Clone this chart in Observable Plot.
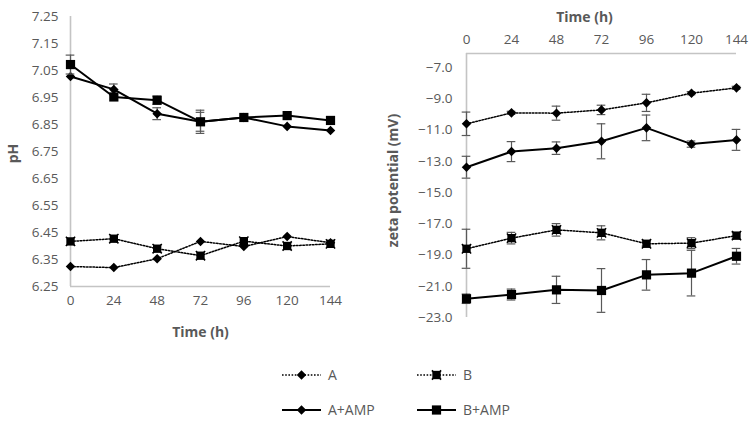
<!DOCTYPE html>
<html>
<head>
<meta charset="utf-8">
<script src="https://cdn.jsdelivr.net/npm/d3@7"></script>
<script src="https://cdn.jsdelivr.net/npm/@observablehq/plot@0.6"></script>
<style>
  html, body { margin: 0; padding: 0; background: #fff; }
  #wrap { position: relative; width: 753px; height: 422px; overflow: hidden; background: #fff; font-family: "Open Sans", sans-serif; }
  #wrap svg { position: absolute; overflow: visible; }
</style>
</head>
<body>
<div id="wrap"></div>
<script>
// ---- data ----
const times = [0, 24, 48, 72, 96, 120, 144];
const seriesNames = ["A", "B", "A+AMP", "B+AMP"];

// pH (left panel)
const phA      = [6.324, 6.320, 6.353, 6.417, 6.398, 6.435, 6.412];
const phB      = [6.417, 6.427, 6.390, 6.364, 6.418, 6.400, 6.408];
const phAAMP   = [7.028, 6.980, 6.890, 6.860, 6.876, 6.843, 6.828];
const phBAMP   = [7.072, 6.952, 6.940, 6.860, 6.876, 6.883, 6.865];
const phAErr    = [0, 0, 0, 0, 0, 0, 0];
const phBErr    = [0, 0, 0, 0, 0, 0, 0];
const phAAMPErr = [0, 0.020, 0.022, 0.035, 0, 0, 0];
const phBAMPErr = [0.035, 0, 0.015, 0.043, 0, 0, 0];

// zeta potential (right panel)
const zA      = [-10.60, -9.90, -9.92, -9.71, -9.26, -8.64, -8.30];
const zB      = [-18.60, -17.92, -17.39, -17.58, -18.28, -18.24, -17.76];
const zAAMP   = [-13.38, -12.38, -12.16, -11.72, -10.86, -11.90, -11.63];
const zBAMP   = [-21.80, -21.53, -21.23, -21.27, -20.27, -20.16, -19.08];
const zAErr    = [0.75, 0.10, 0.45, 0.30, 0.55, 0.10, 0.10];
const zBErr    = [1.25, 0.37, 0.40, 0.45, 0.15, 0.35, 0.20];
const zAAMPErr = [0.70, 0.64, 0.40, 1.12, 0.82, 0.20, 0.67];
const zBAMPErr = [0.30, 0.35, 0.87, 1.40, 0.98, 1.46, 0.50];

const phTicks = [6.25, 6.35, 6.45, 6.55, 6.65, 6.75, 6.85, 6.95, 7.05, 7.15, 7.25];
const zTicks = [-23, -21, -19, -17, -15, -13, -11, -9, -7];
const zTop = -6.1;

// ---- styles ----
const GREY = "#595959";
const AXIS = "#c4c4c4";
const TICK_FS = 13.5;
const TITLE_FS = 14;
const styles = {
  "A":     {dashed: true,  shape: "diamond"},
  "B":     {dashed: true,  shape: "xsquare"},
  "A+AMP": {dashed: false, shape: "diamond"},
  "B+AMP": {dashed: false, shape: "square"}
};

function rows(name, vals, errs) {
  return times.map((t, i) => ({t, v: vals[i], e: errs[i], s: name}));
}

function seriesMarks(data, cap) {
  const st = styles[data[0].s];
  const eb = data.filter(d => d.e > 0);
  const marks = [
    Plot.line(data, {x: "t", y: "v", stroke: "black",
      strokeWidth: st.dashed ? 1.5 : 2,
      strokeDasharray: st.dashed ? "1.6,1.6" : null}),
    Plot.ruleX(eb, {x: "t", y1: d => d.v - d.e, y2: d => d.v + d.e, stroke: GREY, strokeWidth: 1.2}),
    Plot.ruleY(eb, {y: d => d.v + d.e, x1: d => d.t - cap, x2: d => d.t + cap, stroke: GREY, strokeWidth: 1.2}),
    Plot.ruleY(eb, {y: d => d.v - d.e, x1: d => d.t - cap, x2: d => d.t + cap, stroke: GREY, strokeWidth: 1.2})
  ];
  if (st.shape === "diamond") {
    marks.push(Plot.dot(data, {x: "t", y: "v", symbol: "diamond2", r: 4.3, fill: "black", stroke: "none"}));
  } else if (st.shape === "square") {
    marks.push(Plot.dot(data, {x: "t", y: "v", symbol: "square", r: 5.2, fill: "black", stroke: "none"}));
  } else {
    marks.push(Plot.dot(data, {x: "t", y: "v", symbol: "square", r: 4.7, fill: "black", stroke: "none"}));
    marks.push(Plot.dot(data, {x: "t", y: "v", symbol: "times", r: 4.3, stroke: "black", strokeWidth: 1.5, fill: "none"}));
  }
  return marks;
}

const wrap = document.getElementById("wrap");

// ---- left panel: pH ----
const phSeries = [
  rows("A", phA, phAErr), rows("B", phB, phBErr),
  rows("A+AMP", phAAMP, phAAMPErr), rows("B+AMP", phBAMP, phBAMPErr)
];
const left = Plot.plot({
  width: 350, height: 346,
  marginLeft: 70, marginRight: 20, marginTop: 16, marginBottom: 60,
  style: {fontFamily: "Open Sans, sans-serif", fontSize: TICK_FS + "px", color: GREY, background: "transparent", overflow: "visible"},
  x: {domain: [0, 144]},
  y: {domain: [6.25, 7.25]},
  marks: [
    Plot.axisX({ticks: times, tickSize: 0, tickPadding: 9, label: null, fill: GREY}),
    Plot.axisY({ticks: phTicks, tickSize: 0, tickPadding: 12, tickFormat: d3.format(".2f"), label: null, fill: GREY}),
    Plot.ruleX([0], {stroke: AXIS, strokeWidth: 1.6}),
    Plot.ruleY([6.25], {stroke: AXIS, strokeWidth: 1.6}),
    ...phSeries.flatMap(s => seriesMarks(s, 2.4)),
    Plot.text(["Time (h)"], {frameAnchor: "bottom", dy: 50, textAnchor: "middle", fontWeight: "bold", fill: GREY, fontSize: TITLE_FS}),
    Plot.text(["pH"], {frameAnchor: "left", dx: -57, dy: 2, rotate: -90, textAnchor: "middle", fontWeight: "bold", fill: GREY, fontSize: TITLE_FS})
  ]
});
left.style.left = "0px"; left.style.top = "0px";
wrap.appendChild(left);

// ---- right panel: zeta potential ----
const zSeries = [
  rows("A", zA, zAErr), rows("B", zB, zBErr),
  rows("A+AMP", zAAMP, zAAMPErr), rows("B+AMP", zBAMP, zBAMPErr)
];
const right = Plot.plot({
  width: 383, height: 327,
  marginLeft: 96, marginRight: 17, marginTop: 53, marginBottom: 10,
  style: {fontFamily: "Open Sans, sans-serif", fontSize: TICK_FS + "px", color: GREY, background: "transparent", overflow: "visible"},
  x: {domain: [0, 144]},
  y: {domain: [-23, zTop]},
  marks: [
    Plot.axisX({anchor: "top", ticks: times, tickSize: 0, tickPadding: 10, label: null, fill: GREY}),
    Plot.axisY({ticks: zTicks, tickSize: 0, tickPadding: 14, tickFormat: d3.format(".1f"), label: null, fill: GREY}),
    Plot.ruleX([0], {stroke: AXIS, strokeWidth: 1.6}),
    Plot.ruleY([zTop], {stroke: AXIS, strokeWidth: 1.6}),
    ...zSeries.flatMap(s => seriesMarks(s, 2.3)),
    Plot.text(["Time (h)"], {frameAnchor: "top", dy: -41, dx: -17, textAnchor: "middle", fontWeight: "bold", fill: GREY, fontSize: TITLE_FS}),
    Plot.text(["zeta potential (mV)"], {frameAnchor: "left", dx: -73, dy: -5, rotate: -90, textAnchor: "middle", fontWeight: "bold", fill: GREY, fontSize: TITLE_FS})
  ]
});
right.style.left = "370px"; right.style.top = "0px";
wrap.appendChild(right);

// ---- legend ----
const legendPos = [
  {s: "A", x: 282, y: 20}, {s: "B", x: 417, y: 20},
  {s: "A+AMP", x: 282, y: 55}, {s: "B+AMP", x: 417, y: 55}
];
const lg = d3.select(wrap).append("svg")
  .attr("width", 753).attr("height", 67)
  .style("left", "0px").style("top", "355px");
legendPos.forEach(p => {
  const st = styles[p.s];
  const g = lg.append("g").attr("transform", `translate(${p.x},${p.y})`);
  g.append("line").attr("x1", 0).attr("x2", 39).attr("y1", 0).attr("y2", 0)
    .attr("stroke", "black").attr("stroke-width", st.dashed ? 1.5 : 2)
    .attr("stroke-dasharray", st.dashed ? "1.6,1.6" : null);
  const m = g.append("g").attr("transform", "translate(19.5,0)");
  if (st.shape === "diamond") {
    m.append("path").attr("d", d3.symbol(d3.symbolDiamond2, Math.PI * 4.3 * 4.3)()).attr("fill", "black");
  } else if (st.shape === "square") {
    m.append("path").attr("d", d3.symbol(d3.symbolSquare, Math.PI * 5.2 * 5.2)()).attr("fill", "black");
  } else {
    m.append("path").attr("d", d3.symbol(d3.symbolSquare, Math.PI * 4.7 * 4.7)()).attr("fill", "black");
    m.append("path").attr("d", d3.symbol(d3.symbolTimes, Math.PI * 4.3 * 4.3)()).attr("fill", "none")
      .attr("stroke", "black").attr("stroke-width", 1.5);
  }
  g.append("text").attr("x", 46).attr("y", 0).attr("dy", "0.35em")
    .attr("fill", GREY).attr("font-size", 14).attr("font-family", "Open Sans, sans-serif")
    .text(p.s);
});
</script>
</body>
</html>
